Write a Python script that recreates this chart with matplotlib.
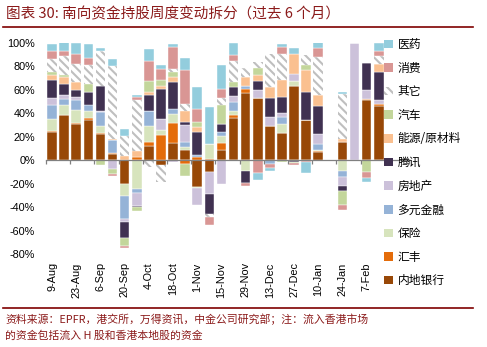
import numpy as np
import matplotlib
matplotlib.use('Agg')
import matplotlib.pyplot as plt
from matplotlib.patches import Patch
from matplotlib.lines import Line2D

plt.rcParams['font.family'] = ['Liberation Sans', 'Noto Sans CJK SC']
plt.rcParams['hatch.linewidth'] = 1.5

CJK = ['Noto Sans CJK SC', 'DejaVu Sans']
RED = '#8B1A1A'
HATCH = '\\\\\\\\'

dates = ['9-Aug', '16-Aug', '23-Aug', '30-Aug', '6-Sep', '13-Sep', '20-Sep', '27-Sep',
         '4-Oct', '11-Oct', '18-Oct', '25-Oct', '1-Nov', '8-Nov', '15-Nov', '22-Nov',
         '29-Nov', '6-Dec', '13-Dec', '20-Dec', '27-Dec', '3-Jan', '10-Jan', '17-Jan',
         '24-Jan', '31-Jan', '7-Feb', '14-Feb']

# weekly change share, %
bank = [24.5, 38.5, 31, 34, 22, 5, -20, 0, 12, -4.3, 14.8, 8.5, -22.8, -10, 8.5, 35.6,
        57, 52.7, 29.3, 23.6, 63.5, 34.2, 7.1, 0, 15.7, 0, 51.3, 46.2]
hsbc = [0.8, 0.5, 0.5, 2, 1, 1, 0, 2.5, 3.7, 21.4, 17.2, -2.8, 2.8, 1.4, 6.5, 3.4,
        4, 0.8, 0, 0, 0, 0, 0.5, 0, 0, 0, 0.7, 1.4]
insur = [10, 8, 11, 6, 6.5, 0, -10.6, -24.4, 13.6, 4.6, 7.3, 2.9, -1.2, 12.6, 5.8, 3,
         -9.4, 0, 0, 6.9, 4.3, 0, 1, 0, -9.4, 0, 0, -1]
divfin = [12, 5, 8.5, 5, 11.5, 11, -19.4, -3.4, 12.7, 0, 4.7, 4.3, 1.5, 0, 3.2, 8,
          2.5, 0, -2.8, 6, 0, 0, 5.6, 0, -4.8, 0, 0, 0]
prop = [6, 3.5, 3, -1, 1, -7.7, -2.7, -11, 0, 8.8, -1.4, 14.3, -14.5, -19, -20, 4.7,
        0, 6.3, 7.7, 4, 5.7, 0, 7.8, 0, -7.8, 100, 7.8, 3.7]
tencent = [15, 9.5, 6, 11.5, 21, 0, -13.8, -1.1, 14, 26.2, 23, 3, 19.7, -17, 7.3, 8,
           -10, 8, 16, 13.5, -1.5, 24.2, 24.4, 0, -4.2, 0, 22.8, 24.2]
energy = [4, 6, 7, 0, 0, 1, 4, 5.2, 2.4, 2.5, 4, 9, 4, 0, 0, -1,
          7.2, 5.2, 9.7, 14.4, 17.5, 18.6, 9.6, 0, 2.3, 0, 0, 6.3]
auto = [3, 2, 0, 6.5, -4, -4, -6.5, -3.6, 9.1, 4.9, 4, -10.6, 5, 0, 15.7, 4.3,
        0, 6, 0, -1.4, -1, 4.2, 0, 0, -12.3, 0, -10, 0]
other = [11, 16, 15.5, 16, 30.5, 62, 16.5, 43.3, -5.7, -14.2, 3, 5.6, 0, -2.4, 5.7, 17.6,
         7.6, 5, 28.3, 22.6, 0, 8.5, 32.3, 0, 38.4, 0, 0, 7.4]
consumer = [6.5, 4, 8, 6, 0, -2, -1.5, 3, 17.5, 9.6, 19, 29.4, 11, -7.1, 8, 5.4,
            -2.6, -10.8, -3.7, 6, -1.5, -1.5, 7.7, 0, -4.2, 0, -5, 3.8]
pharma = [6.5, 7.5, 9.5, 12, 2, 6, 6, 2, 10, 3, 2, 10, 18.7, 31.6, 20.3, 9.7,
          0, -5.7, -2.5, 2, 5, -9.5, 4.5, 0, 1.4, 0, -3.5, 6.7]

# bottom to top
series = [
    ('内地银行', bank, '#984807'),
    ('汇丰', hsbc, '#E46C0A'),
    ('保险', insur, '#D7E4BD'),
    ('多元金融', divfin, '#95B3D7'),
    ('房地产', prop, '#CCC1DA'),
    ('腾讯', tencent, '#403151'),
    ('能源/原材料', energy, '#FAC090'),
    ('汽车', auto, '#C3D69B'),
    ('其它', other, None),
    ('消费', consumer, '#D99694'),
    ('医药', pharma, '#93CDDD'),
]

fig = plt.figure(figsize=(4.87, 3.47), dpi=100)
ax = fig.add_axes([46 / 487, 1 - 254 / 347, (409 - 46) / 487, (254 - 43) / 347])

x = np.arange(len(dates))
pos = np.zeros(len(dates))
neg = np.zeros(len(dates))
handles = []
for name, vals, color in series:
    v = np.array(vals, dtype=float)
    bottom = np.where(v >= 0, pos, neg)
    if color is None:
        ax.bar(x, v, bottom=bottom, width=0.8, color='white', edgecolor='#BFBFBF',
               hatch=HATCH, linewidth=0)
        handles.append(Patch(facecolor='white', edgecolor='#BFBFBF', hatch=HATCH, linewidth=0, label=name))
    else:
        ax.bar(x, v, bottom=bottom, width=0.8, color=color, edgecolor='white', linewidth=0.3)
        handles.append(Patch(facecolor=color, edgecolor='none', label=name))
    pos += np.clip(v, 0, None)
    neg += np.clip(v, None, 0)

ax.set_xlim(-0.5, 29.5)
ax.set_ylim(-80, 100)
ax.set_yticks(np.arange(-80, 101, 20))
ax.set_yticklabels([f'{v}%' for v in range(-80, 101, 20)])
ax.tick_params(axis='y', length=0, pad=8, labelsize=7.8)

for s in ['top', 'right', 'left']:
    ax.spines[s].set_visible(False)
ax.spines['bottom'].set_position(('data', 0))
ax.spines['bottom'].set_color('#808080')
ax.spines['bottom'].set_linewidth(0.9)
ax.set_xticks([])
ax.set_xticks(np.arange(-0.5, 30, 2), minor=True)
ax.tick_params(axis='x', which='minor', length=3, color='#808080', width=0.9, labelbottom=False)

sec = ax.secondary_xaxis(0.0)
sec.set_xticks(x[::2], dates[::2])
sec.spines['bottom'].set_visible(False)
sec.tick_params(length=0, pad=6, labelsize=7.8, labelrotation=90)

fig.legend(handles=handles[::-1], loc='upper left', bbox_to_anchor=(384 / 487, 1 - 38 / 347),
           frameon=False, prop={'family': CJK, 'size': 8.5}, handlelength=0.75, handleheight=0.75,
           handletextpad=0.4, labelspacing=0.9, borderpad=0, borderaxespad=0)

fig.text(6 / 487, 1 - 14 / 347, '图表 30: 南向资金持股周度变动拆分（过去 6 个月）',
         family=CJK, fontsize=10.5, color=RED, va='center', style='italic')
fig.add_artist(Line2D([3 / 487, 473 / 487], [1 - 27 / 347] * 2, color='#7F0000', lw=1.2))
fig.add_artist(Line2D([3 / 487, 473 / 487], [1 - 308 / 347] * 2, color='#7F0000', lw=1.2))
fig.text(5 / 487, 1 - 319 / 347, '资料来源：EPFR，港交所，万得资讯，中金公司研究部；注：流入香港市场',
         family=CJK, fontsize=7.8, color=RED, va='center', style='italic')
fig.text(5 / 487, 1 - 336 / 347, '的资金包括流入 H 股和香港本地股的资金',
         family=CJK, fontsize=7.8, color=RED, va='center', style='italic')

fig.savefig('out.png', dpi=100)
